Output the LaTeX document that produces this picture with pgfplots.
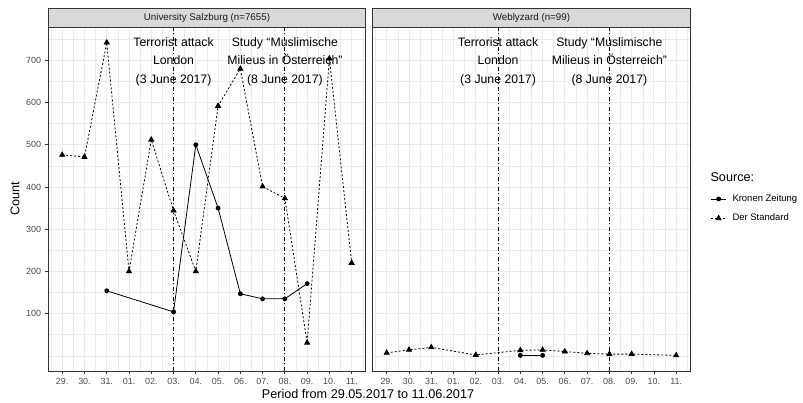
\documentclass[border=0pt]{standalone}
\usepackage{fontspec}
\setmainfont{Liberation Sans}
\usepackage{pgfplots}
\pgfplotsset{compat=1.18}
\definecolor{grey92}{HTML}{EBEBEB}
\definecolor{grey85}{HTML}{D9D9D9}
\definecolor{grey30}{HTML}{4D4D4D}
\definecolor{grey20}{HTML}{333333}
\definecolor{grey10}{HTML}{1A1A1A}
\tikzset{annot/.style={align=center, font=\fontsize{12.3}{18.7}\selectfont, text=black}}
\pgfplotsset{
  panel/.style={
    scale only axis, width=317.5bp, height=344bp, anchor=south west,
    xmin=-0.63, xmax=13.63, ymin=-36, ymax=779,
    xtick={0,...,13},
    xticklabels={29.,30.,31.,01.,02.,03.,04.,05.,06.,07.,08.,09.,10.,11.},
    minor xtick={-0.5,0.5,...,13.5},
    ytick={100,200,...,700},
    minor ytick={0,50,150,250,350,450,550,650,750},
    grid=both,
    major grid style={grey92, line width=0.9bp},
    minor grid style={grey92, line width=0.45bp},
    axis line style={grey20, line width=0.8bp},
    tick align=outside, tick pos=left,
    major tick length=3.5bp, minor tick length=0pt,
    tick style={grey20, line width=0.8bp},
    /pgf/number format/assume math mode=true,
    ticklabel style={font=\fontsize{9}{10}\selectfont, text=grey30},
    clip=true,
  },
  krone/.style={black, line width=0.8bp, mark=*, mark size=2bp},
  standard/.style={black, line width=0.8bp, dash pattern=on 2bp off 2bp, mark=triangle*, mark size=2.9bp, mark options={solid}},
  vline/.style={black, line width=0.8bp, dash pattern=on 4bp off 2.5bp on 1bp off 2.5bp, forget plot},
}
\pgfplotstableread{
x y
0 476
1 471
2 742
3 200
4 512
5 344
6 200
7 592
8 680
9 401
10 373
11 31
12 704
13 220
}\salzStandard
\pgfplotstableread{
x y
2 154
5 104
6 500
7 350
8 147
9 135
10 135
11 171
}\salzKrone
\pgfplotstableread{
x y
0 7
1 14
2 20
4 2
6 13
7 14
8 10
9 6
10 4
11 4
13 1
}\webStandard
\pgfplotstableread{
x y
6 1
7 1
}\webKrone
\begin{document}
\begin{tikzpicture}
\useasboundingbox (0,0) rectangle (803bp,403bp);
% left panel
\begin{axis}[panel, name=left, at={(48.2bp,32bp)}]
\addplot[vline] coordinates {(5,-36) (5,779)};
\addplot[vline] coordinates {(10,-36) (10,779)};
\addplot[krone] table[x=x,y=y] {\salzKrone};
\addplot[standard] table[x=x,y=y] {\salzStandard};
\node[annot] at (axis cs:5,697) {Terrorist attack\\London\\(3 June 2017)};
\node[annot] at (axis cs:10,697) {Study “Muslimische\\Milieus in Österreich”\\(8 June 2017)};
\end{axis}
% right panel
\begin{axis}[panel, name=right, at={(372.7bp,32bp)}, yticklabels={},
  every y tick/.style={draw=none}, every major y tick/.style={draw=none},
  legend style={at={(1.064,0.472)}, anchor=west, draw=none, fill=none, inner sep=0pt,
    font=\fontsize{9.5}{11}\selectfont, row sep=7bp, text=black,
    /tikz/every odd column/.append style={column sep=4bp}},
  legend cell align=left,
  legend image code/.code={\draw[mark repeat=2,mark phase=2] plot coordinates {(0bp,0bp) (7.5bp,0bp) (15bp,0bp)};},
]
\addplot[vline] coordinates {(5,-36) (5,779)};
\addplot[vline] coordinates {(10,-36) (10,779)};
\addplot[krone] table[x=x,y=y] {\webKrone};
\addlegendentry{Kronen Zeitung}
\addplot[standard] table[x=x,y=y] {\webStandard};
\addlegendentry{Der Standard}
\node[annot] at (axis cs:5,697) {Terrorist attack\\London\\(3 June 2017)};
\node[annot] at (axis cs:10,697) {Study “Muslimische\\Milieus in Österreich”\\(8 June 2017)};
\end{axis}
% strips
\draw[grey20, fill=grey85, line width=0.8bp] (48.2bp,376bp) rectangle (365.7bp,395bp);
\node[font=\fontsize{9.8}{11}\selectfont, text=grey10] at (206.95bp,385.5bp) {University Salzburg (n=7655)};
\draw[grey20, fill=grey85, line width=0.8bp] (372.7bp,376bp) rectangle (690.2bp,395bp);
\node[font=\fontsize{9.8}{11}\selectfont, text=grey10] at (531.45bp,385.5bp) {Weblyzard (n=99)};
% titles
\node[rotate=90, font=\fontsize{12.7}{14}\selectfont] at (15bp,204bp) {Count};
\node[font=\fontsize{12.7}{14}\selectfont] at (368bp,9bp) {Period from 29.05.2017 to 11.06.2017};
\node[anchor=west, font=\fontsize{12.7}{14}\selectfont] at (707bp,226bp) {Source:};
\end{tikzpicture}
\end{document}
